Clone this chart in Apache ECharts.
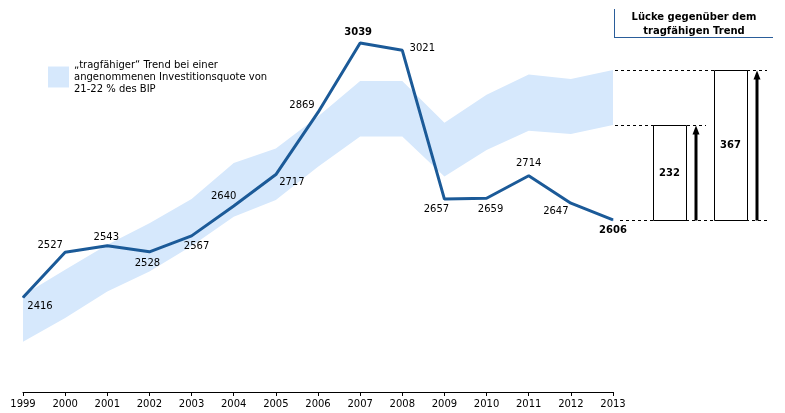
<!DOCTYPE html>
<html><head><meta charset="utf-8">
<script src="https://cdn.jsdelivr.net/npm/echarts@6/dist/echarts.min.js"></script>
<style>html,body{margin:0;padding:0;background:#fff}#c{width:785px;height:413px}</style>
</head><body><div id="c"></div>
<script>
const years = ['1999','2000','2001','2002','2003','2004','2005','2006','2007','2008','2009','2010','2011','2012','2013'];
const investment = [2416,2527,2543,2528,2567,2640,2717,2869,3039,3021,2657,2659,2714,2647,2606];
const trendUpper = [2422,2484,2545,2598,2657,2745,2781,2859,2946,2946,2844,2912,2962,2951,2973];
const trendLower = [2308,2366,2431,2480,2542,2614,2655,2736,2810,2810,2712,2777,2824,2816,2838];
const gaps = [232, 367];
const legendText = '\u201etragf\u00e4higer\u201c Trend bei einer\nangenommenen Investitionsquote von\n21-22 % des BIP';
const gapTitle = 'L\u00fccke gegen\u00fcber dem\ntragf\u00e4higen Trend';

const FONT = 'DejaVu Sans';
const LINE = '#1b5a98';
const BAND = '#d6e8fc';
const labelOffsets = [[17,9],[-15,-7],[-1,-8],[-2,12],[5,11],[-10,-10],[16,8],[-16,-7.5],[-2,-10.5],[20,-2],[-8,10],[4,11],[0,-12],[-15,8],[0,10.5]];
const boldIdx = [8, 14];
const rectX = [38, 99];   // left edge of gap boxes in side-panel units
const rectW = 33;

const chart = echarts.init(document.getElementById('c'), null, {renderer:'canvas'});
const base = investment[investment.length - 1];

const option = {
  animation: false,
  textStyle: {fontFamily: FONT},
  legend: {
    left: 48, top: 59, padding: 0, icon: 'rect', itemWidth: 21, itemHeight: 21, selectedMode: false,
    data: [legendText],
    textStyle: {fontFamily: FONT, fontSize: 10, lineHeight: 12, color: '#000'}
  },
  grid: [
    {left: 23, right: 172, top: 18, bottom: 21},
    {left: 615, width: 170, top: 18, bottom: 21}
  ],
  xAxis: [
    {type: 'category', data: years, boundaryGap: false, gridIndex: 0,
     axisLine: {lineStyle: {color: '#000', width: 1}},
     axisTick: {show: true, length: 4, lineStyle: {color: '#000'}},
     axisLabel: {color: '#000', fontSize: 10, fontFamily: FONT, margin: 7, interval: 0},
     splitLine: {show: false}},
    {type: 'value', gridIndex: 1, min: 0, max: 170, show: false}
  ],
  yAxis: [
    {type: 'value', gridIndex: 0, min: 2185, max: 3100, show: false, splitLine: {show: false}},
    {type: 'value', gridIndex: 1, min: 2185, max: 3100, show: false, splitLine: {show: false}}
  ],
  graphic: [
    {type: 'line', shape: {x1: 614.5, y1: 9, x2: 614.5, y2: 38}, style: {stroke: '#2a5d9a', lineWidth: 1}},
    {type: 'line', shape: {x1: 614, y1: 37.5, x2: 773, y2: 37.5}, style: {stroke: '#2a5d9a', lineWidth: 1}},
    {type: 'text', x: 694, y: 10, style: {text: gapTitle, font: 'bold 10px ' + FONT, fill: '#000', align: 'center', verticalAlign: 'top', lineHeight: 14}}
  ],
  series: [
    {name: 'lower', type: 'line', stack: 'band', data: trendLower, symbol: 'none',
     lineStyle: {opacity: 0}, silent: true, z: 1},
    {name: legendText, type: 'line', stack: 'band', data: trendUpper.map((v, i) => v - trendLower[i]),
     symbol: 'none', lineStyle: {opacity: 0}, color: BAND, itemStyle: {color: BAND},
     areaStyle: {color: BAND, opacity: 1}, silent: true, z: 1},
    {name: 'Investitionen', type: 'line', data: investment.map((v, i) => ({
        value: v,
        label: {offset: labelOffsets[i], fontWeight: boldIdx.includes(i) ? 'bold' : 'normal'}
      })),
     symbol: 'circle', symbolSize: 1, showSymbol: true, color: LINE,
     lineStyle: {color: LINE, width: 3}, itemStyle: {color: LINE},
     label: {show: true, position: 'inside', color: '#000', fontSize: 10, fontFamily: FONT},
     z: 5},
    {type: 'custom', xAxisIndex: 1, yAxisIndex: 1, data: gaps.map((g, i) => [i, g]), z: 5,
     renderItem: function (params, api) {
       const i = params.dataIndex;
       const gap = api.value(1);
       const top = base + gap;
       const x0 = rectX[i];
       const pTL = api.coord([x0, top]);
       const pBR = api.coord([x0 + rectW, base]);
       const ax = api.coord([x0 + rectW + 10, base])[0];
       const dEnd = api.coord([x0 + rectW + 20, top])[0];
       const dStart = api.coord([0, top])[0];
       const yTop = Math.round(pTL[1]) + 0.5;
       const yBase = Math.round(pBR[1]) + 0.5;
       const children = [
         {type: 'line', shape: {x1: dStart, y1: yTop, x2: dEnd, y2: yTop},
          style: {stroke: '#000', lineWidth: 1, lineDash: [3, 3]}},
         {type: 'rect', shape: {x: Math.round(pTL[0]) + 0.5, y: yTop, width: Math.round(pBR[0] - pTL[0]), height: yBase - yTop},
          style: {fill: '#fff', stroke: '#000', lineWidth: 1}},
         {type: 'line', shape: {x1: ax, y1: yBase, x2: ax, y2: yTop + 7},
          style: {stroke: '#000', lineWidth: 3}},
         {type: 'polygon', shape: {points: [[ax - 3.5, yTop + 9], [ax + 3.5, yTop + 9], [ax, yTop]]},
          style: {fill: '#000'}},
         {type: 'text', x: (pTL[0] + pBR[0]) / 2, y: (yTop + yBase) / 2,
          style: {text: String(gap), font: 'bold 10px ' + FONT, fill: '#000', align: 'center', verticalAlign: 'middle'}}
       ];
       if (i === gaps.length - 1) {
         children.unshift({type: 'line', shape: {x1: api.coord([5, base])[0], y1: yBase, x2: dEnd, y2: yBase},
           style: {stroke: '#000', lineWidth: 1, lineDash: [3, 3]}});
       }
       return {type: 'group', children: children};
     }}
  ]
};
chart.setOption(option);
</script>
</body></html>
